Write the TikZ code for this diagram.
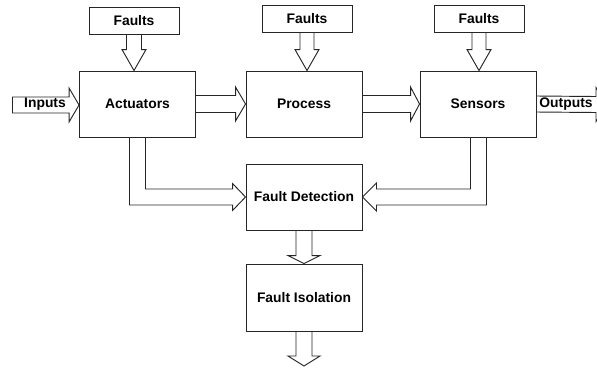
\documentclass[tikz,border=0pt]{standalone}
\usepackage{fontspec}
\setmainfont{Liberation Sans}
\usetikzlibrary{calc}

% hollow block arrow pointing down: #1 start, #2 tip, #3 shaft half-width, #4 head half-width, #5 head length
\newcommand{\hollowdown}[5]{%
  \draw[blockline] ($(#1)+(-#3,0)$) -- ($(#2)+(-#3,-#5)$) -- ($(#2)+(-#4,-#5)$) -- (#2)
    -- ($(#2)+(#4,-#5)$) -- ($(#2)+(#3,-#5)$) -- ($(#1)+(#3,0)$);}
% hollow block arrow pointing right: same arguments
\newcommand{\hollowright}[5]{%
  \draw[blockline] ($(#1)+(0,-#3)$) -- ($(#2)+(-#5,-#3)$) -- ($(#2)+(-#5,-#4)$) -- (#2)
    -- ($(#2)+(-#5,#4)$) -- ($(#2)+(-#5,#3)$) -- ($(#1)+(0,#3)$);}

\tikzset{
  blockline/.style={draw=black!85, line width=0.7pt, line join=miter},
  block/.style={blockline, rectangle, minimum width=87pt, minimum height=49.5pt,
    inner sep=0pt, font=\fontsize{10.4}{12}\selectfont\bfseries},
  faultbox/.style={block, minimum width=67.5pt, minimum height=20.25pt},
  label/.style={inner sep=0pt, font=\fontsize{10.4}{12}\selectfont\bfseries},
}

\begin{document}
\begin{tikzpicture}[x=0.75pt, y=-0.75pt]
\useasboundingbox[fill=white] (0,0) rectangle (597,369);

% main blocks
\node[block] (act) at (137.5,104) {Actuators};
\node[block] (proc) at (304,104) {Process};
\node[block] (sens) at (478,104) {Sensors};
\node[block] (fd) at (304,197) {Fault Detection};
\node[block, minimum height=50.25pt] (fi) at (304,297.5) {Fault Isolation};

% fault sources
\node[faultbox] (f1) at (134,20.5) {Faults};
\node[faultbox] (f2) at (307,19) {Faults};
\node[faultbox] (f3) at (479,18.5) {Faults};

% free ends of the signal arrows
\coordinate (inl) at (12,105);
\coordinate (outr) at (606,104.5);
\coordinate (fiout) at (304,366);

% external labels
\node[label] (in) at (45,104) {Inputs};
\node[label] (out) at (566,104) {Outputs};

% faults entering each stage
\coordinate (t1) at (f1.south |- act.north);
\coordinate (t2) at (f2.south |- proc.north);
\coordinate (t3) at (f3.south |- sens.north);
\hollowdown{f1.south}{t1}{7.5}{12}{21}
\hollowdown{f2.south}{t2}{7}{12}{21}
\hollowdown{f3.south}{t3}{7}{12}{21}

% signal chain
\coordinate (actw) at (act.west |- inl);
\draw[blockline] ($(inl)+(0,-8)$) -- ($(inl)+(0,8)$);
\hollowright{inl}{actw}{8}{17}{10}
\hollowright{act.east}{proc.west}{8.5}{17}{10}
\hollowright{proc.east}{sens.west}{8.5}{17}{9}
\hollowright{sens.east}{outr}{8}{17}{10}

% actuator signal to fault detection
\draw[blockline] ($(act.south)+(-8,0)$) -- ($(act.south |- fd.west)+(-8,8)$)
  -- ($(fd.west)+(-13,8)$) -- ($(fd.west)+(-13,13.5)$) -- (fd.west)
  -- ($(fd.west)+(-13,-13.5)$) -- ($(fd.west)+(-13,-8)$)
  -- ($(act.south |- fd.west)+(8,-8)$) -- ($(act.south)+(8,0)$);

% sensor signal to fault detection
\draw[blockline] ($(sens.south)+(8.5,0)$) -- ($(sens.south |- fd.east)+(8.5,8)$)
  -- ($(fd.east)+(14,8)$) -- ($(fd.east)+(14,14)$) -- (fd.east)
  -- ($(fd.east)+(14,-14)$) -- ($(fd.east)+(14,-8)$)
  -- ($(sens.south |- fd.east)+(-7.5,-8)$) -- ($(sens.south)+(-7.5,0)$);

% detection to isolation, and isolation output
\hollowdown{fd.south}{fi.north}{8}{16}{8}
\hollowdown{fi.south}{fiout}{8}{16}{10}
\end{tikzpicture}
\end{document}
